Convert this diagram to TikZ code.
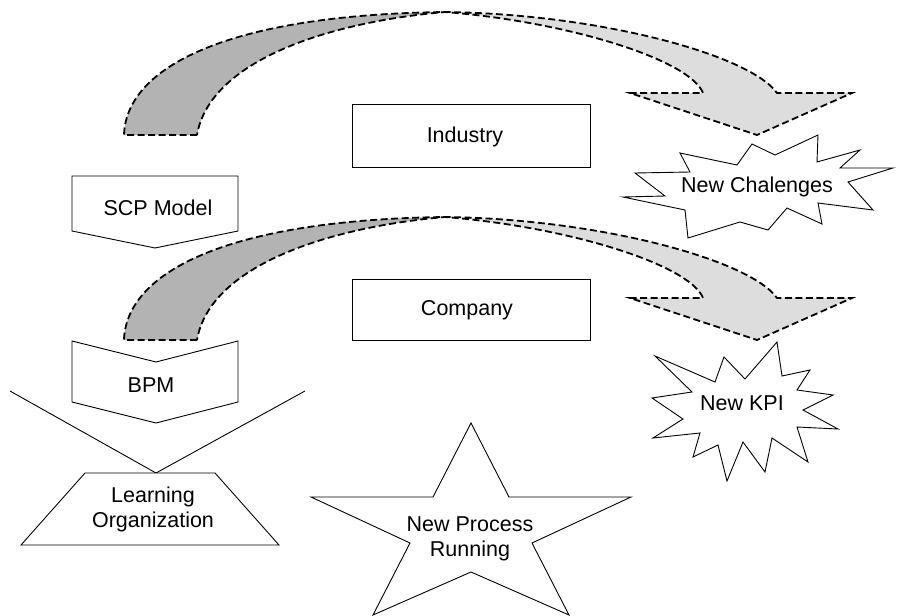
\documentclass[tikz,border=0pt]{standalone}
\usepackage{fontspec}
\setmainfont{Liberation Sans}
\definecolor{ribdark}{HTML}{B3B3B3}
\definecolor{riblight}{HTML}{DDDDDD}
\begin{document}
\begin{tikzpicture}[x=1pt,y=-1pt,
  shp/.style={draw=black, line width=0.9pt, fill=white, line join=miter},
  thinline/.style={draw=black, line width=0.9pt},
  ribbon/.style={draw=black, line width=1.8pt, dash pattern=on 7pt off 3.5pt, line join=miter},
  lbl/.style={font=\fontsize{21.5}{25}\selectfont, align=center, inner sep=0pt}]
\fill[white] (0,0) rectangle (898,616);
\useasboundingbox (0,0) rectangle (898,616);

% curved ribbon arrows
\foreach \dy in {0,205}{
\begin{scope}[shift={(0,\dy)}]
\fill[ribdark] (124,135) .. controls (126,70) and (220,15) .. (445,12)
   .. controls (330,22) and (210,60) .. (197,135) -- cycle;
\fill[riblight] (445,12) .. controls (600,14) and (750,55) .. (777,93)
   -- (852,93) -- (757,135) -- (630,93) -- (703,93)
   .. controls (690,60) and (570,22) .. (445,12) -- cycle;
\draw[ribbon] (197,135) -- (124,135) .. controls (126,70) and (220,15) .. (445,12)
   .. controls (600,14) and (750,55) .. (777,93)
   -- (852,93) -- (757,135) -- (630,93) -- (703,93)
   .. controls (690,60) and (570,22) .. (445,12)
   .. controls (330,22) and (210,60) .. (197,135);
\end{scope}}

% Industry / Company boxes
\node[shp, minimum width=238pt, minimum height=63pt, inner sep=0pt] (indbox) at (471,135.5) {};
\node[lbl] (ind) at (465,137) {Industry};
\node[shp, minimum width=238pt, minimum height=61pt, inner sep=0pt] (compbox) at (471,309.5) {};
\node[lbl] (comp) at (467,310) {Company};

% SCP Model pentagon
\draw[shp] (72,176) -- (238,176) -- (238,231) -- (155,248) -- (72,231) -- cycle;
\node[lbl] (scp) at (158,208) {SCP Model};

% BPM chevron
\draw[shp] (72,341) -- (156,362) -- (238,341) -- (238,402) -- (156,423) -- (72,402) -- cycle;
\node[lbl] (bpm) at (151,385) {BPM};

% V lines
\coordinate (vl) at (10,391);
\coordinate (va) at (156,473);
\coordinate (vr) at (305,391);
\draw[thinline] (vl) -- (va) -- (vr);

% Learning Organization trapezoid
\draw[shp] (85,473) -- (215,473) -- (279,545) -- (21,545) -- cycle;
\node[lbl] (lo) at (153,509) {Learning\\Organization};

% New Chalenges burst
\draw[shp] (680,153) -- (737,165) -- (752,144) -- (775,155) -- (818,135) -- (817,162)
  -- (860,150) -- (840,168) -- (893,168) -- (848,182) -- (873,210) -- (818,203)
  -- (822,224) -- (787,208) -- (768,230) -- (740,222) -- (688,238) -- (685,210)
  -- (623,197) -- (665,196) -- (635,173) -- (690,172) -- cycle;
\node[lbl] (nch) at (757,187) {New Chalenges};

% New KPI burst
\draw[shp] (655,356) -- (715,382) -- (724,357) -- (745,379) -- (777,342) -- (782,376)
  -- (810,370) -- (797,390) -- (833,395) -- (803,410) -- (838,429) -- (797,427)
  -- (808,462) -- (772,438) -- (765,472) -- (743,442) -- (727,481) -- (718,445)
  -- (693,457) -- (700,433) -- (653,438) -- (683,419) -- (652,398) -- (692,392) -- cycle;
\node[lbl] (kpi) at (742,403) {New KPI};

% star
\draw[shp] (471,423) -- (509,497) -- (631,497) -- (532,543) -- (569,615) -- (471,572)
  -- (373,615) -- (410,543) -- (311,497) -- (433,497) -- cycle;
\node[lbl] (npr) at (470,539) {New Process\\Running};
\end{tikzpicture}
\end{document}
